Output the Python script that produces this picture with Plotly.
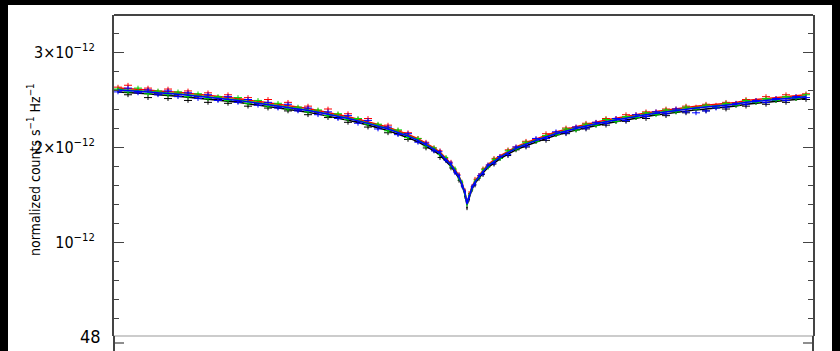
import numpy as np
import plotly.graph_objects as go

# Bin centres (frequency, arbitrary units across the band)
freq = [4, 14, 24, 34, 44, 54, 64, 74, 84, 94, 104, 114, 124, 134, 144, 154,
        164, 174, 184, 194, 204, 214, 224, 234, 244, 254, 264, 274, 284, 294, 304,
        312, 320, 326, 332, 337, 341, 345, 348, 351, 353, 355, 358, 361, 365, 369,
        374, 380, 386, 394, 402,
        412, 422, 432, 442, 452, 462, 472, 482, 492, 502, 512, 522, 532, 542, 552,
        562, 572, 582, 592, 602, 612, 622, 632, 642, 652, 662, 672, 682, 692]

# Best-fit model (units of 1e-12 counts s^-1 Hz^-1)
model = [2.60, 2.595, 2.59, 2.58, 2.57, 2.565, 2.555, 2.545, 2.535, 2.525, 2.51,
         2.50, 2.49, 2.475, 2.46, 2.45, 2.435, 2.42, 2.40, 2.385, 2.365, 2.345,
         2.325, 2.30, 2.275, 2.25, 2.22, 2.19, 2.155, 2.115, 2.07,
         2.025, 1.975, 1.93, 1.87, 1.81, 1.75, 1.68, 1.61, 1.51, 1.40, 1.48, 1.57,
         1.63, 1.69, 1.74, 1.80, 1.85, 1.89, 1.94, 1.985,
         2.03, 2.07, 2.105, 2.14, 2.17, 2.195, 2.22, 2.245, 2.265, 2.285, 2.305,
         2.325, 2.34, 2.355, 2.37, 2.385, 2.40, 2.41, 2.42, 2.43, 2.44, 2.45, 2.47,
         2.48, 2.49, 2.50, 2.51, 2.52, 2.53]

# Observed spectra of the four data groups (units of 1e-12)
black = [2.60, 2.55, 2.58, 2.52, 2.56, 2.51, 2.55, 2.49, 2.53, 2.47, 2.50, 2.46,
         2.48, 2.43, 2.46, 2.41, 2.42, 2.38, 2.39, 2.34, 2.36, 2.31, 2.31, 2.26,
         2.27, 2.21, 2.21, 2.15, 2.14, 2.08, 2.06,
         1.99, 1.96, 1.89, 1.86, 1.78, 1.74, 1.65, 1.60, 1.48, 1.36, 1.45, 1.55,
         1.60, 1.67, 1.71, 1.79, 1.82, 1.88, 1.91, 1.97,
         2.00, 2.06, 2.07, 2.13, 2.14, 2.18, 2.19, 2.23, 2.23, 2.27, 2.27, 2.31,
         2.30, 2.35, 2.33, 2.37, 2.36, 2.40, 2.38, 2.42, 2.40, 2.44, 2.43, 2.47,
         2.45, 2.49, 2.47, 2.51, 2.50]
red = [2.63, 2.65, 2.59, 2.62, 2.58, 2.61, 2.56, 2.59, 2.54, 2.57, 2.52, 2.55,
       2.50, 2.52, 2.47, 2.50, 2.44, 2.47, 2.41, 2.43, 2.38, 2.40, 2.34, 2.35,
       2.29, 2.30, 2.23, 2.23, 2.17, 2.15, 2.09,
       2.05, 1.99, 1.96, 1.88, 1.84, 1.76, 1.71, 1.62, 1.54, 1.42, 1.51, 1.58,
       1.66, 1.70, 1.77, 1.81, 1.88, 1.90, 1.97, 2.00,
       2.06, 2.08, 2.14, 2.15, 2.20, 2.21, 2.25, 2.26, 2.30, 2.30, 2.34, 2.34,
       2.37, 2.37, 2.40, 2.40, 2.43, 2.42, 2.45, 2.44, 2.47, 2.46, 2.50, 2.49,
       2.53, 2.51, 2.55, 2.53, 2.56]
green = [2.61, 2.58, 2.62, 2.56, 2.59, 2.55, 2.58, 2.53, 2.56, 2.51, 2.53, 2.49,
         2.52, 2.46, 2.49, 2.43, 2.46, 2.40, 2.42, 2.37, 2.39, 2.33, 2.35, 2.29,
         2.30, 2.24, 2.24, 2.17, 2.18, 2.10, 2.09,
         2.01, 1.99, 1.92, 1.89, 1.80, 1.77, 1.67, 1.63, 1.50, 1.40, 1.49, 1.56,
         1.64, 1.68, 1.76, 1.79, 1.87, 1.88, 1.96, 1.98,
         2.05, 2.06, 2.12, 2.13, 2.19, 2.18, 2.24, 2.23, 2.29, 2.27, 2.32, 2.31,
         2.36, 2.34, 2.39, 2.37, 2.42, 2.40, 2.44, 2.42, 2.46, 2.44, 2.49, 2.47,
         2.51, 2.49, 2.53, 2.51, 2.55]
blue = [2.58, 2.62, 2.57, 2.60, 2.55, 2.59, 2.53, 2.57, 2.51, 2.55, 2.49, 2.53,
        2.47, 2.50, 2.44, 2.47, 2.41, 2.45, 2.38, 2.41, 2.34, 2.37, 2.30, 2.33,
        2.25, 2.28, 2.19, 2.21, 2.13, 2.14, 2.05,
        2.04, 1.96, 1.95, 1.86, 1.83, 1.73, 1.70, 1.59, 1.53, 1.44, 1.47, 1.58,
        1.61, 1.70, 1.72, 1.81, 1.83, 1.90, 1.92, 2.00,
        2.01, 2.09, 2.09, 2.16, 2.15, 2.21, 2.20, 2.26, 2.25, 2.30, 2.28, 2.34,
        2.32, 2.37, 2.35, 2.40, 2.37, 2.36, 2.38, 2.41, 2.42, 2.46, 2.45, 2.49,
        2.47, 2.51, 2.49, 2.53, 2.52]

# Per-group model normalisation constants
norm_black, norm_red, norm_green, norm_blue = 0.992, 1.008, 1.002, 1.000

# Tick labels of the count-rate axis
ytick_vals = [1.0, 2.0, 3.0]
ytick_text = ["10<sup>\u221212</sup>", "2\u00d710<sup>\u221212</sup>",
              "3\u00d710<sup>\u221212</sup>"]

SCALE = 1e-12
x = np.array(freq, dtype=float)
edges = np.concatenate(([x[0] - (x[1] - x[0]) / 2],
                        (x[:-1] + x[1:]) / 2,
                        [x[-1] + (x[-1] - x[-2]) / 2]))
half_width = np.diff(edges) / 2

groups = [(black, norm_black, "#000000"),
          (red, norm_red, "#ff0000"),
          (green, norm_green, "#00d800"),
          (blue, norm_blue, "#0000ff")]

fig = go.Figure()
for vals, nrm, col in groups:
    fig.add_trace(go.Scatter(
        x=x, y=np.array(model) * nrm * SCALE, mode="lines",
        line=dict(color=col, width=1.5), showlegend=False, hoverinfo="skip"))
    fig.add_trace(go.Scatter(
        x=x, y=np.array(vals) * SCALE, mode="markers",
        marker=dict(size=1, color=col),
        error_x=dict(type="data", array=half_width * 0.8, color=col, thickness=1, width=0),
        error_y=dict(type="constant", value=0.025 * SCALE, color=col, thickness=1, width=0),
        showlegend=False, hoverinfo="skip"))

FONT = "DejaVu Sans Condensed, Liberation Sans Narrow, Liberation Sans, sans-serif"
AX = "#444444"

fig.update_layout(
    width=840, height=351,
    margin=dict(l=114, r=27, t=15, b=15),
    paper_bgcolor="#000000", plot_bgcolor="#ffffff",
    font=dict(family=FONT, color="#000000", size=15),
    xaxis=dict(range=[0, 699], showticklabels=False, ticks="", showgrid=False,
               zeroline=False, showline=False),
    yaxis=dict(range=[0.0105 * SCALE, 3.3895 * SCALE],
               tickvals=[v * SCALE for v in ytick_vals], ticktext=ytick_text,
               ticks="inside", ticklen=10, tickwidth=1.2, tickcolor=AX,
               minor=dict(dtick=0.2 * SCALE, ticks="inside", ticklen=5,
                          tickwidth=1, tickcolor=AX, showgrid=False),
               showline=True, linecolor=AX, linewidth=2, mirror="allticks",
               showgrid=False, zeroline=False, ticklabelstandoff=14,
               tickfont=dict(size=16, family=FONT)),
)

# White page area around the frame
fig.add_shape(type="rect", xref="paper", yref="paper",
              x0=(8 - 114) / 699, x1=(832 - 114) / 699, y0=-0.2, y1=(336 - 5) / 321,
              fillcolor="#ffffff", line=dict(width=0), layer="below")
# Top border of the frame and the lower panel boundary
fig.add_shape(type="line", xref="paper", yref="paper", x0=0, x1=1, y0=1, y1=1,
              line=dict(color=AX, width=2))
fig.add_shape(type="line", xref="paper", yref="paper", x0=0, x1=1, y0=0, y1=0,
              line=dict(color="#999999", width=1))
# Axes continuing into the lower panel
for xp, sgn in [(0, 1), (1, -1)]:
    fig.add_shape(type="line", xref="paper", yref="paper", x0=xp, x1=xp,
                  y0=0, y1=-0.06, line=dict(color=AX, width=2))
    fig.add_shape(type="line", xref="paper", yref="paper",
                  x0=xp, x1=xp + sgn * 10 / 699, y0=-7 / 321, y1=-7 / 321,
                  line=dict(color=AX, width=1.2))

fig.add_annotation(text="normalized counts s<sup>\u22121</sup> Hz<sup>\u22121</sup>",
                   textangle=-90, xref="paper", yref="paper",
                   x=(34 - 114) / 699, y=(336 - 170) / 321,
                   xanchor="center", yanchor="middle",
                   showarrow=False, font=dict(size=14, family=FONT))
fig.add_annotation(text="48", xref="paper", yref="paper",
                   x=(103 - 114) / 699, y=(336 - 337) / 321,
                   xanchor="right", yanchor="middle",
                   showarrow=False, font=dict(size=18, family=FONT))

fig.write_html("out.html")
